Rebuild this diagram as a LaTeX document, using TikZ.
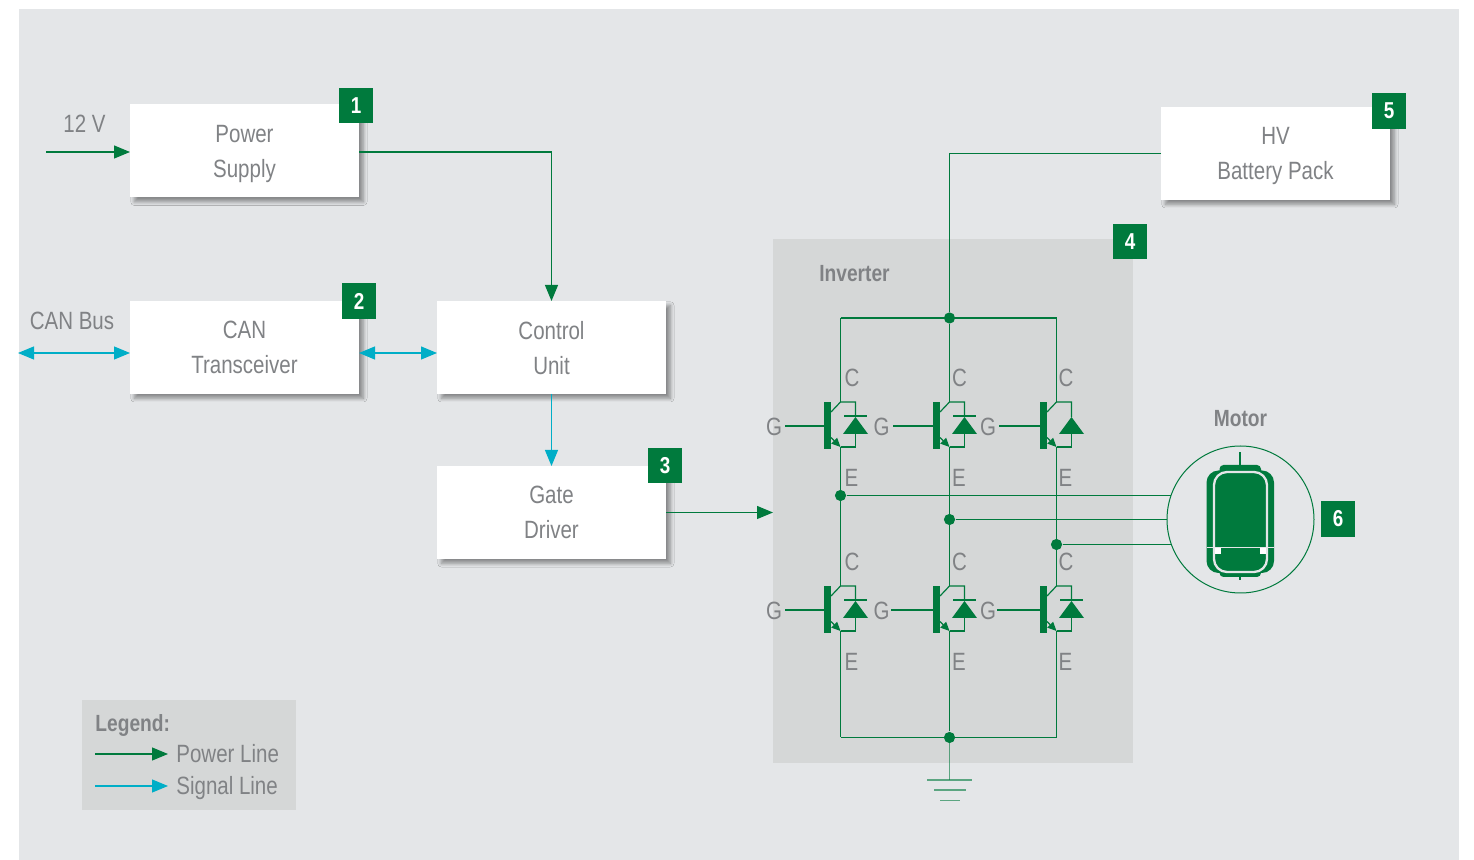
\documentclass[tikz,border=0pt]{standalone}
\usepackage{fontspec}
\setmainfont[FakeStretch=0.82]{Liberation Sans}
\usetikzlibrary{arrows.meta, calc, positioning, shadows.blur}
\definecolor{pagegrey}{HTML}{E4E6E8}
\definecolor{panelgrey}{HTML}{D5D7D7}
\definecolor{labelgrey}{HTML}{808285}
\definecolor{powergreen}{HTML}{007A3D}
\definecolor{signalcyan}{HTML}{00AEC7}
\tikzset{
  block/.style={fill=white, minimum width=114.5pt, minimum height=46.5pt, inner sep=0pt, outer sep=0pt,
    align=center, text=labelgrey, text depth=0pt, font=\fontsize{12.5}{17.5}\selectfont,
    blur shadow={shadow xshift=2.2pt, shadow yshift=-2.2pt, shadow blur radius=1.8pt, shadow blur steps=10, shadow opacity=40}},
  badge/.style={fill=powergreen, minimum width=17pt, minimum height=17.8pt, inner sep=0pt,
    text=white, font=\fontsize{11.5}{12}\selectfont\bfseries},
  label/.style={inner sep=0pt, text=labelgrey, font=\fontsize{12.5}{14}\selectfont},
  boldlabel/.style={label, font=\fontsize{11.7}{14}\selectfont\bfseries},
  powerline/.style={draw=powergreen, line width=0.6pt},
  signalline/.style={draw=signalcyan, line width=0.6pt},
  tip/.style={-{Triangle[length=8pt,width=6.5pt]}},
  dtip/.style={{Triangle[length=8pt,width=6.5pt]}-{Triangle[length=8pt,width=6.5pt]}},
  junction/.style={circle, fill=powergreen, minimum size=5.6pt, inner sep=0pt},
  pics/igbt/.style={code={
    \fill[powergreen] (-16.5,-24) rectangle (-9.5,23);
    \draw[powerline] (-9.5,-14) -- (0,-24) -- (15,-24) -- (15,-9);
    \draw[powerline] (15,8) -- (15,21) -- (0,21);
    \draw[powerline, -{Triangle[length=4.5pt,width=4pt]}] (-9.5,11.5) -- (0,21);
    \fill[powergreen] (15,-9) -- (2.5,8) -- (27.5,8) -- cycle;
    \coordinate (-c) at (0,-24);
    \coordinate (-e) at (0,21);
    \coordinate (-g) at (-16.5,0);
  }},
  diodebar/.pic={\draw[powerline] (3.5,-10) -- (26,-10);},
}
\begin{document}
\begin{tikzpicture}[x=0.5pt, y=-0.5pt, node distance=0pt]
\useasboundingbox (0,0) rectangle (1474,860);
\fill[pagegrey] (19,9) rectangle (1459,860);
\fill[panelgrey] (773,239) rectangle (1133,763);
\coordinate (invwest) at (773,512);
\fill[panelgrey] (82,700) rectangle (296,810);

% blocks
\node[block] (pwr) at (244.5,151) {Power\\Supply};
\node[block, below=51.75pt of pwr] (can) {CAN\\Transceiver};
\node[block, right=39pt of can] (ctrl) {Control\\Unit};
\node[block, below=36pt of ctrl] (gate) {Gate\\Driver};
\node[block] (hv) at (1275.5,153.5) {HV\\Battery Pack};

\node[badge] (b1) at (356,105.5) {1};
\node[badge] (b2) at (359,301) {2};
\node[badge] (b3) at (665,465.5) {3};
\node[badge] (b4) at (1130,241.5) {4};
\node[badge] (b5) at (1389,111) {5};
\node[badge] (b6) at (1338,519) {6};

\node[label] (v12) at (84.5,124) {12 V};
\node[label] (canbus) at (72,321) {CAN Bus};
\node[boldlabel] (inv) at (854.5,273.5) {Inverter};
\node[boldlabel] (mot) at (1240.5,418.5) {Motor};

% external ends
\coordinate (vin) at (46,152);
\coordinate (busend) at (18,353);

\draw[powerline, tip] (vin) -- (pwr.west |- vin);
\draw[powerline, tip] (pwr.east |- vin) -| (ctrl.north);
\draw[signalline, dtip] (busend) -- (can.west |- busend);
\draw[signalline, dtip] (can.east |- busend) -- (ctrl.west |- busend);
\draw[signalline, tip] (ctrl.south) -- (gate.north);
\draw[powerline, tip] (gate.east) -- (gate.east -| invwest);

% inverter switches
\pic (qa) at (840.5,426) {igbt};
\pic (qb) at (949.5,426) {igbt};
\pic (qc) at (1056.5,426) {igbt};
\pic (qd) at (840.5,610) {igbt};
\pic (qe) at (949.5,610) {igbt};
\pic (qf) at (1056.5,610) {igbt};
\pic at (840.5,426) {diodebar};
\pic at (949.5,426) {diodebar};
\pic at (840.5,610) {diodebar};
\pic at (949.5,610) {diodebar};
\pic at (1056.5,610) {diodebar};

\coordinate (gqa) at (785,426);
\coordinate (gqb) at (893,426);
\coordinate (gqc) at (999,426);
\coordinate (gqd) at (785,610);
\coordinate (gqe) at (891,610);
\coordinate (gqf) at (997,610);
\draw[powerline] (gqa) -- (qa-g);
\draw[powerline] (gqb) -- (qb-g);
\draw[powerline] (gqc) -- (qc-g);
\draw[powerline] (gqd) -- (qd-g);
\draw[powerline] (gqe) -- (qe-g);
\draw[powerline] (gqf) -- (qf-g);

\node[label] (ga) at (774,426.5) {G};
\node[label] (gb) at (881.5,426.5) {G};
\node[label] (gc) at (988,426.5) {G};
\node[label] (gd) at (774,610.5) {G};
\node[label] (ge) at (881.5,610.5) {G};
\node[label] (gf) at (988,610.5) {G};
\node[label] (ca) at (852,378) {C};
\node[label] (cb) at (959.5,378) {C};
\node[label] (cc) at (1066,378) {C};
\node[label] (cd) at (852,562) {C};
\node[label] (ce) at (959.5,562) {C};
\node[label] (cf) at (1066,562) {C};
\node[label] (ea) at (851.5,478) {E};
\node[label] (eb) at (959,478) {E};
\node[label] (ec) at (1065.5,478) {E};
\node[label] (ed) at (851.5,662) {E};
\node[label] (ee) at (959,662) {E};
\node[label] (ef) at (1065.5,662) {E};

% rails
\node[junction] (jtop) at (949.5,318) {};
\node[junction] (jbot) at (949.5,737.5) {};
\node[junction] (ju) at (840.5,495.5) {};
\node[junction] (jv) at (949.5,519.5) {};
\node[junction] (jw) at (1056.5,544.5) {};
\coordinate (rtl) at (840.5,318);
\coordinate (rtr) at (1056.5,318);
\coordinate (rbl) at (840.5,737.5);
\coordinate (rbr) at (1056.5,737.5);
\draw[powerline] (rtl) -- (rtr);
\draw[powerline] (rbl) -- (rbr);
\draw[powerline] (hv.west) -| (jtop);
\draw[powerline] (jtop) -- (qb-c);
\draw[powerline] (rtl) -- (qa-c);
\draw[powerline] (rtr) -- (qc-c);
\draw[powerline] (qa-e) -- (qd-c);
\draw[powerline] (qb-e) -- (qe-c);
\draw[powerline] (qc-e) -- (qf-c);
\draw[powerline] (qd-e) -- (rbl);
\draw[powerline] (qe-e) -- (jbot);
\draw[powerline] (qf-e) -- (rbr);

% ground
\coordinate (gnda) at (949.5,780);
\draw[powerline, opacity=0.6, line width=0.8pt] (jbot) -- (gnda);
\draw[powerline, opacity=0.6, line width=0.9pt] (927,780) -- (972,780);
\draw[powerline, opacity=0.6, line width=0.9pt] (934,790) -- (966,790);
\draw[powerline, opacity=0.6, line width=0.9pt] (940,800.5) -- (960,800.5);

% motor
\node[circle, draw=powergreen, line width=0.5pt, minimum size=73.5pt, inner sep=0pt] (motor) at (1240.5,519.5) {};
\fill[powergreen, rounded corners=2pt] (1219.5,465) rectangle (1261,577);
\fill[powergreen, rounded corners=6pt] (1206.5,470.5) rectangle (1274,573);
\draw[powergreen, line width=1pt] (1240,452.5) -- (1240,466);
\draw[powergreen, line width=1pt] (1240,574) -- (1240,580);
\draw[pagegrey, line width=1.15pt, rounded corners=6.5pt] (1214,472) rectangle (1267,572);
\draw[pagegrey, line width=0.5pt] (1206.5,547.5) -- (1274,547.5);
\fill[white] (1215,548) rectangle (1221,554);
\fill[white] (1260,548) rectangle (1266,554);
\draw[powerline] (ju) -- (ju -| motor.160);
\draw[powerline] (jv) -- (jv -| motor.west);
\draw[powerline] (jw) -- (jw -| motor.200);

% legend
\node[boldlabel, anchor=west] (leg) at (95,725.5) {Legend:};
\coordinate (lp) at (95,754);
\coordinate (ls) at (95,786);
\node[label, anchor=west] (lpt) at (176,754) {Power Line};
\node[label, anchor=west] (lst) at (176,788) {Signal Line};
\draw[powerline, tip, shorten >=4pt] (lp) -- (lp -| lpt.west);
\draw[signalline, tip, shorten >=4pt] (ls) -- (ls -| lst.west);
\end{tikzpicture}
\end{document}
